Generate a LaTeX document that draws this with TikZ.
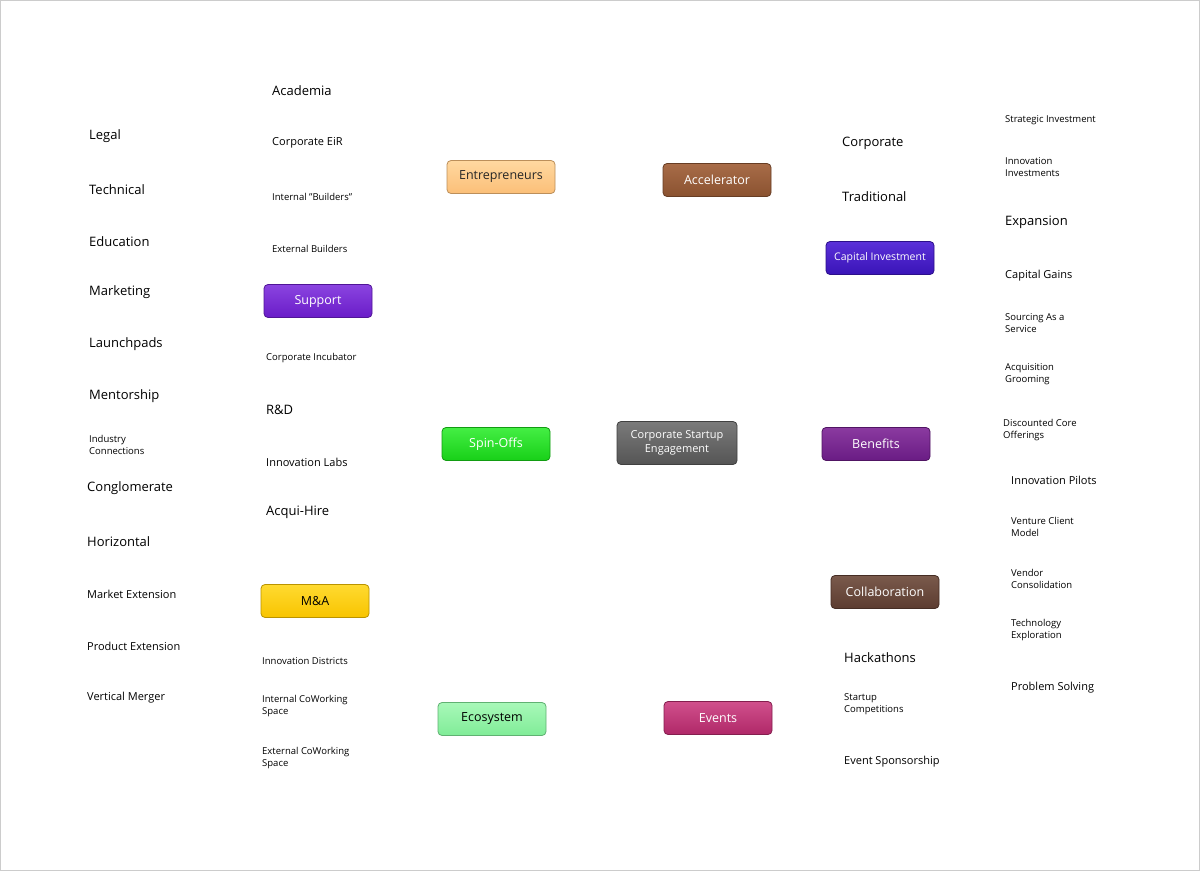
\documentclass[tikz,border=0pt]{standalone}
\usepackage{fontspec}
\setmainfont{Open Sans}
\usetikzlibrary{calc}
\pgfdeclarelayer{bg}\pgfsetlayers{bg,main}
\definecolor{cEnt}{HTML}{C68A48}\definecolor{cSup}{HTML}{2E1A8A}\definecolor{cSpin}{HTML}{1FA81F}
\definecolor{cMA}{HTML}{C29A12}\definecolor{cEco}{HTML}{45BB58}\definecolor{cAcc}{HTML}{4A1A0A}
\definecolor{cCap}{HTML}{0A0A78}\definecolor{cBen}{HTML}{2A0A3A}\definecolor{cCol}{HTML}{2A0A0A}
\definecolor{cEv}{HTML}{6A0A2A}
\definecolor{tC}{HTML}{7A7A7A}\definecolor{bC}{HTML}{555555}
\definecolor{tEnt}{HTML}{FFD8A0}\definecolor{bEnt}{HTML}{FBBF78}
\definecolor{tSup}{HTML}{8A44E0}\definecolor{bSup}{HTML}{6A1CC8}
\definecolor{tSpin}{HTML}{44EE44}\definecolor{bSpin}{HTML}{18D018}
\definecolor{tMA}{HTML}{FFDA30}\definecolor{bMA}{HTML}{F8C400}
\definecolor{tEco}{HTML}{A8F8B8}\definecolor{bEco}{HTML}{80EC98}
\definecolor{tAcc}{HTML}{A86C48}\definecolor{bAcc}{HTML}{8A5230}
\definecolor{tCap}{HTML}{5A30D8}\definecolor{bCap}{HTML}{3A14B8}
\definecolor{tBen}{HTML}{8A3AA0}\definecolor{bBen}{HTML}{6A1C84}
\definecolor{tCol}{HTML}{7A5A4C}\definecolor{bCol}{HTML}{5C3C30}
\definecolor{tEv}{HTML}{D0508C}\definecolor{bEv}{HTML}{B02868}
\tikzset{
 box/.style 2 args={rounded corners=4pt,minimum width=108pt,minimum height=33pt,inner sep=2pt,font=\fontsize{12.5}{14}\selectfont,text=white,top color=#1,bottom color=#2,draw=#2!75!black,line width=0.8pt},
 main/.style={line width=4.5pt,line cap=round},
 leafline/.style={line width=3pt,line cap=round},
 big/.style={font=\fontsize{13}{15}\selectfont},
 mid/.style={font=\fontsize{11}{13}\selectfont},
 sm/.style={font=\fontsize{9.5}{12}\selectfont,align=left},
}
\newcommand\leafL[8]{%
 \coordinate (#1n) at (#3,#5);\coordinate (#1f) at (#4,#5);
 \begin{pgfonlayer}{bg}\draw[leafline,#6] (#2) to[out=180,in=0] (#1n) -- (#1f);\end{pgfonlayer}
 \node[#7,anchor=south west,inner sep=1pt] (#1) at (#4+1,#5-2) {#8};}
\newcommand\leafR[8]{%
 \coordinate (#1n) at (#3,#5);\coordinate (#1f) at (#4,#5);
 \begin{pgfonlayer}{bg}\draw[leafline,#6] (#2) to[out=0,in=180] (#1n) -- (#1f);\end{pgfonlayer}
 \node[#7,anchor=south west,inner sep=1pt] (#1) at (#3+1,#5-2) {#8};}
\begin{document}
\begin{tikzpicture}[x=1pt,y=-1pt]
\useasboundingbox[fill=white] (0,0) rectangle (1200,871);
\draw[gray!40] (0.5,0.5) rectangle (1199.5,870.5);
\node[box={tC}{bC},minimum width=120pt,minimum height=43pt,align=center,font=\fontsize{11}{14}\selectfont] (c) at (677,443) {Corporate Startup\\Engagement};
\node[box={tEnt}{bEnt},text=black!85] (ent) at (501,177) {Entrepreneurs};
\node[box={tSup}{bSup}] (sup) at (318,301) {Support};
\node[box={tSpin}{bSpin}] (spin) at (496,444) {Spin-Offs};
\node[box={tMA}{bMA},text=black] (ma) at (315,601) {M\&A};
\node[box={tEco}{bEco},text=black] (eco) at (492,719) {Ecosystem};
\node[box={tAcc}{bAcc}] (acc) at (717,180) {Accelerator};
\node[box={tCap}{bCap},font=\fontsize{10.5}{12}\selectfont] (cap) at (880,258) {Capital Investment};
\node[box={tBen}{bBen}] (ben) at (876,444) {Benefits};
\node[box={tCol}{bCol}] (col) at (885,592) {Collaboration};
\node[box={tEv}{bEv}] (ev) at (718,718) {Events};
\begin{pgfonlayer}{bg}
\draw[main,cEnt] (c.west) .. controls (585,443) and (592,177) .. (ent.east);
\draw[main,cSup] (c.west) to[out=180,in=0] (sup.east);
\draw[main,cSpin] (c.west) -- (spin.east);
\draw[main,cMA] (c.west) to[out=180,in=0] (ma.east);
\draw[main,cEco] (c.west) .. controls (585,443) and (592,719) .. (eco.east);
\draw[main,cAcc] (c.east) .. controls (715,435) and (648,260) .. (acc.west);
\draw[main,cCap] (c.east) to[out=0,in=180] (cap.west);
\draw[main,cBen] (c.east) -- (ben.west);
\draw[main,cCol] (c.east) to[out=0,in=180] (col.west);
\draw[main,cEv] (c.east) .. controls (715,451) and (648,626) .. (ev.west);
\end{pgfonlayer}
\leafL{l1}{ent.west}{380}{270}{99}{cEnt}{big}{Academia}
\leafL{l2}{ent.west}{380}{270}{151}{cEnt}{mid}{Corporate EiR}
\leafL{l3}{ent.west}{380}{270}{204}{cEnt}{sm}{Internal "Builders"}
\leafL{l4}{ent.west}{380}{270}{256}{cEnt}{sm}{External Builders}
\leafL{s1}{sup.west}{195}{87}{146}{cSup}{big}{Legal}
\leafL{s2}{sup.west}{195}{87}{198}{cSup}{big}{Technical}
\leafL{s3}{sup.west}{195}{87}{250}{cSup}{big}{Education}
\leafL{s4}{sup.west}{195}{87}{302}{cSup}{big}{Marketing}
\leafL{s5}{sup.west}{195}{87}{354}{cSup}{big}{Launchpads}
\leafL{s6}{sup.west}{195}{87}{406}{cSup}{big}{Mentorship}
\leafL{s7}{sup.west}{195}{87}{458}{cSup}{sm}{Industry\\Connections}
\leafL{p1}{spin.west}{370}{264}{366}{cSpin}{sm}{Corporate Incubator}
\leafL{p2}{spin.west}{370}{264}{418}{cSpin}{big}{R\&D}
\leafL{p3}{spin.west}{370}{264}{470}{cSpin}{mid}{Innovation Labs}
\leafL{p4}{spin.west}{370}{264}{522}{cSpin}{big}{Acqui-Hire}
\leafL{m1}{ma.west}{195}{85}{498}{cMA}{big}{Conglomerate}
\leafL{m2}{ma.west}{195}{85}{550}{cMA}{big}{Horizontal}
\leafL{m3}{ma.west}{195}{85}{602}{cMA}{mid}{Market Extension}
\leafL{m4}{ma.west}{195}{85}{654}{cMA}{mid}{Product Extension}
\leafL{m5}{ma.west}{195}{85}{706}{cMA}{mid}{Vertical Merger}
\leafL{e1}{eco.west}{370}{260}{668}{cEco}{sm}{Innovation Districts}
\leafL{e2}{eco.west}{370}{260}{720}{cEco}{sm}{Internal CoWorking\\Space}
\leafL{e3}{eco.west}{370}{260}{772}{cEco}{sm}{External CoWorking\\Space}
\leafR{a1}{acc.east}{840}{950}{153}{cAcc}{big}{Corporate}
\leafR{a2}{acc.east}{840}{950}{205}{cAcc}{big}{Traditional}
\leafR{k1}{cap.east}{1003}{1112}{128}{cCap}{sm}{Strategic Investment}
\leafR{k2}{cap.east}{1003}{1112}{180}{cCap}{sm}{Innovation\\Investments}
\leafR{k3}{cap.east}{1003}{1112}{232}{cCap}{big}{Expansion}
\leafR{k4}{cap.east}{1003}{1112}{284}{cCap}{mid}{Capital Gains}
\leafR{k5}{cap.east}{1003}{1112}{336}{cCap}{sm}{Sourcing As a\\Service}
\leafR{k6}{cap.east}{1003}{1112}{388}{cCap}{sm}{Acquisition\\Grooming}
\leafR{b1}{ben.east}{1001}{1110}{444}{cBen}{sm}{Discounted Core\\Offerings}
\leafR{o1}{col.east}{1009}{1118}{488}{cCol}{mid}{Innovation Pilots}
\leafR{o2}{col.east}{1009}{1118}{540}{cCol}{sm}{Venture Client\\Model}
\leafR{o3}{col.east}{1009}{1118}{592}{cCol}{sm}{Vendor\\Consolidation}
\leafR{o4}{col.east}{1009}{1118}{644}{cCol}{sm}{Technology\\Exploration}
\leafR{o5}{col.east}{1009}{1118}{696}{cCol}{mid}{Problem Solving}
\leafR{v1}{ev.east}{842}{950}{666}{cEv}{big}{Hackathons}
\leafR{v2}{ev.east}{842}{950}{718}{cEv}{sm}{Startup\\Competitions}
\leafR{v3}{ev.east}{842}{950}{770}{cEv}{mid}{Event Sponsorship}
\end{tikzpicture}
\end{document}
